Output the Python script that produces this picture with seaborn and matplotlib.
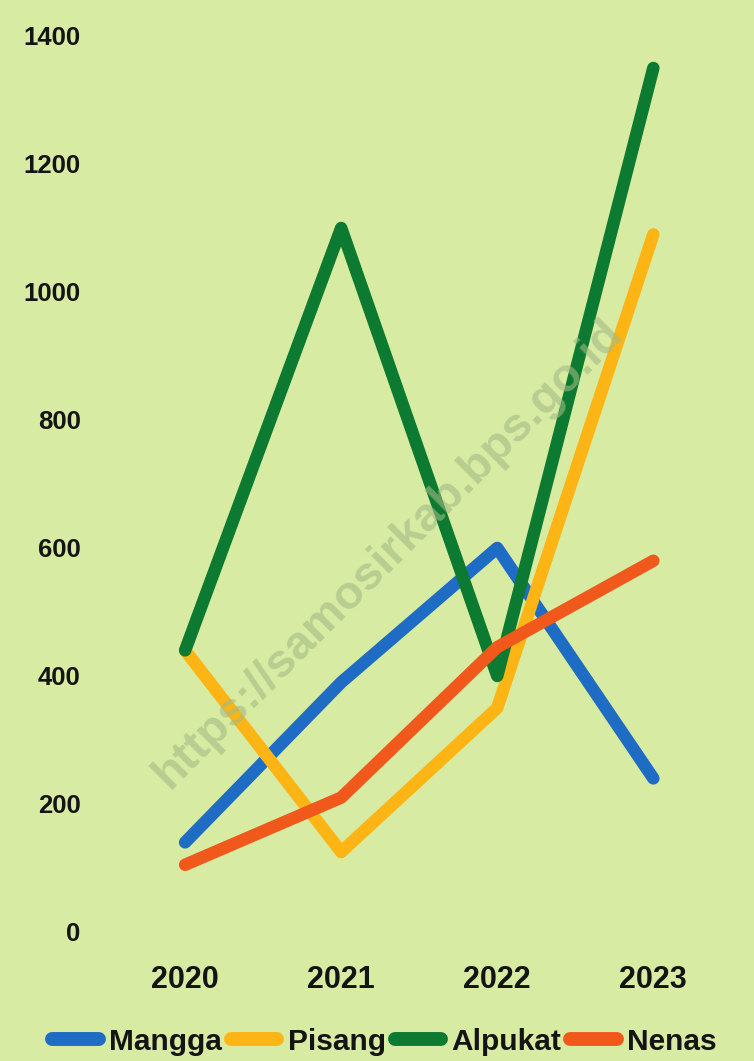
import pandas as pd
import matplotlib.pyplot as plt
import seaborn as sns

# data
tahun = [2020, 2021, 2022, 2023]
mangga = [140, 390, 600, 240]
pisang = [440, 125, 350, 1090]
alpukat = [440, 1100, 400, 1350]
nenas = [105, 210, 445, 580]
yticks = [0, 200, 400, 600, 800, 1000, 1200, 1400]

df = pd.DataFrame({
    'Tahun': tahun * 4,
    'Nilai': mangga + pisang + alpukat + nenas,
    'Buah': ['Mangga'] * 4 + ['Pisang'] * 4 + ['Alpukat'] * 4 + ['Nenas'] * 4,
})

warna = {'Mangga': '#1f6cc4', 'Pisang': '#fdb515', 'Alpukat': '#0c7a30', 'Nenas': '#f0581c'}
bg = '#d8eba2'
teks = '#141414'

sns.set_style('white')
plt.rcParams['font.family'] = ['Liberation Sans', 'DejaVu Sans']

fig = plt.figure(figsize=(7.54, 10.61), dpi=100, facecolor=bg)
ax = fig.add_axes([0.142, 0.1216, 0.828, 0.8445])
ax.set_facecolor(bg)

sns.lineplot(data=df, x='Tahun', y='Nilai', hue='Buah', palette=warna,
             linewidth=9, ax=ax, legend=False, clip_on=False,
             solid_capstyle='round', solid_joinstyle='round')

ax.set_xlim(2019.5, 2023.5)
ax.set_ylim(0, 1400)
ax.set_xticks(tahun)
ax.set_xticklabels([str(t) for t in tahun], fontsize=22, fontweight='bold', color=teks)
ax.set_yticks(yticks)
ax.set_yticklabels([str(v) for v in yticks], fontsize=18.5, fontweight='bold', color=teks)
ax.tick_params(axis='x', length=0, pad=24)
ax.tick_params(axis='y', length=0, pad=19)
ax.set_xlabel('')
ax.set_ylabel('')
sns.despine(ax=ax, left=True, bottom=True)

# legend built from the same palette
handles = [plt.Line2D([], [], color=warna[k], linewidth=10, solid_capstyle='round')
           for k in warna]
leg = fig.legend(handles, list(warna.keys()), loc='center', bbox_to_anchor=(0.51, 0.018),
                 ncol=4, frameon=False, handlelength=1.55, handletextpad=0.35,
                 columnspacing=0.3, prop={'size': 21.5, 'weight': 'bold'},
                 labelcolor=teks)

# watermark
fig.text(0.515, 0.478, 'https://samosirkab.bps.go.id', rotation=45, fontsize=34,
         fontweight='bold', color='#a3ba85', alpha=0.6, ha='center', va='center')

fig.savefig('out.png', dpi=100, facecolor=bg)
